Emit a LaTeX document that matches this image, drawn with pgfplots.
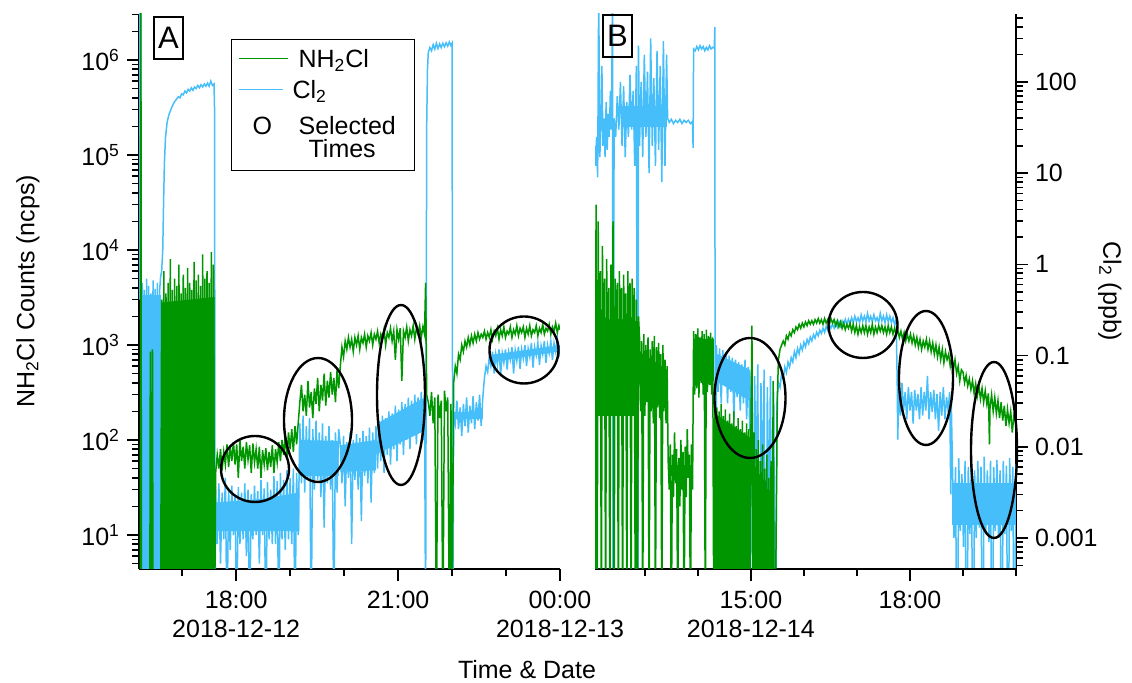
\documentclass[border=0pt]{standalone}
\usepackage{fontspec}
\setmainfont{Liberation Sans}
\usepackage{pgfplots}
\pgfplotsset{compat=1.18}
\definecolor{cgreen}{RGB}{0,150,0}
\definecolor{cblue}{RGB}{70,190,250}
\newcommand{\lfont}{\fontsize{12.5}{14.5}\selectfont}
\pgfplotsset{
  base/.style={scale only axis, width=210.5pt, height=277.5pt, anchor=south west,
    tick align=outside, major tick length=6pt, minor tick length=3.5pt,
    every tick/.style={black, line width=0.8pt},
    axis line style={-, line width=1pt, black},
    tick label style={font=\lfont},
    label style={font=\lfont},
    x tick label style={align=center, yshift=-1.5pt}},
  countticks/.style={ytick={10,100,1000,10000,100000,1000000},
    yticklabels={10\textsuperscript{1},10\textsuperscript{2},10\textsuperscript{3},10\textsuperscript{4},10\textsuperscript{5},10\textsuperscript{6}},
    minor ytick={5,6,7,8,9,20,30,40,50,60,70,80,90,200,300,400,500,600,700,800,900,2000,3000,4000,5000,6000,7000,8000,9000,2e4,3e4,4e4,5e4,6e4,7e4,8e4,9e4,2e5,3e5,4e5,5e5,6e5,7e5,8e5,9e5,2e6,3e6}},
  bband/.style={fill=cblue, draw=none, forget plot},
  gband/.style={fill=cgreen, draw=none, forget plot},
}
\begin{document}
\begin{tikzpicture}
\useasboundingbox (0,0) rectangle (566pt,341.5pt);
% ---------------- Panel A ----------------
\begin{axis}[base, at={(69.5pt,57pt)}, xmin=16.2, xmax=24, ymode=log, ymin=4.39, ymax=3.05e6,
  axis x line*=bottom, axis y line*=left, countticks,
  xtick={18,21,24}, xticklabels={{18:00\\2018-12-12},{21:00},{00:00\\2018-12-13}},
  minor xtick={17,19,20,22,23},
  ylabel={NH\textsubscript{2}Cl Counts (ncps)},
  ylabel style={at={(axis description cs:-0.264,0.5)}, anchor=center},
]
% Cl2 (blue): dense cores of the noisy bands
\addplot[bband] coordinates {(16.25,3400)(16.60,3400)(16.60,1)(16.25,1)} -- cycle;
\addplot[bband] coordinates {(17.62,22)(18.5,24)(19.17,28)(19.17,11)(17.62,11)} -- cycle;
\addplot[bband] coordinates {(19.18,100)(19.90,98)(19.90,42)(19.18,42)} -- cycle;
\addplot[bband] coordinates {(19.93,88)(20.59,100)(20.59,48)(19.93,46)} -- cycle;
\addplot[bband] coordinates {(20.62,150)(21.49,280)(21.49,125)(20.62,72)} -- cycle;
\addplot[bband] coordinates {(22.03,195)(22.57,195)(22.57,165)(22.03,165)} -- cycle;
\addplot[bband] coordinates {(22.72,790)(24,990)(24,860)(22.72,660)} -- cycle;
% Cl2 (blue)
\addplot[cblue, line width=0.75pt] coordinates {
(16.20,3000)(16.215,1e7)(16.235,1e7)(16.245,1)(16.26,4500)(16.28,1)(16.30,3800)(16.32,1)(16.34,5000)(16.36,1)(16.38,4200)(16.40,1)(16.42,3500)(16.44,1)(16.46,4800)(16.48,1)(16.50,3900)(16.52,1)(16.54,4500)(16.56,1)(16.58,3600)(16.60,5200)(16.62,6000)(16.64,1e4)(16.655,3e4)(16.67,8e4)(16.69,1.5e5)(16.72,2.2e5)(16.75,2.6e5)(16.78,2.9e5)(16.81,3.2e5)(16.84,3.5e5)(16.87,3.7e5)(16.90,3.9e5)(16.93,4.1e5)(16.96,4.0e5)(16.99,4.4e5)(17.02,4.3e5)(17.05,4.7e5)(17.08,4.5e5)(17.11,4.9e5)(17.14,4.7e5)(17.17,5.1e5)(17.20,4.8e5)(17.23,5.2e5)(17.26,5.0e5)(17.29,5.4e5)(17.32,5.1e5)(17.35,5.5e5)(17.38,5.2e5)(17.41,5.6e5)(17.44,5.3e5)(17.47,5.7e5)(17.50,5.3e5)(17.53,6.0e5)(17.56,5.4e5)(17.59,5.6e5)(17.60,3e5)(17.61,1)
(17.62,30)(17.65,8)(17.68,35)(17.71,5)(17.74,28)(17.77,9)(17.80,40)(17.83,1)(17.86,30)(17.89,7)(17.92,33)(17.95,10)(17.98,26)(18.01,1)(18.04,32)(18.07,8)(18.10,28)(18.13,9)(18.16,35)(18.19,6)(18.22,30)(18.25,1)(18.28,27)(18.31,9)(18.34,33)(18.37,10)(18.40,29)(18.43,5)(18.46,38)(18.49,10)(18.52,31)(18.55,1)(18.58,36)(18.61,9)(18.64,30)(18.67,8)(18.70,42)(18.73,8)(18.76,37)(18.79,1)(18.82,45)(18.85,9)(18.88,38)(18.91,7)(18.94,48)(18.97,9)(19.00,40)(19.03,8)(19.06,50)(19.09,1)(19.12,45)(19.15,10)
(19.18,150)(19.21,35)(19.24,180)(19.27,28)(19.30,140)(19.33,40)(19.36,170)(19.39,1)(19.42,130)(19.45,30)(19.48,160)(19.51,38)(19.54,120)(19.57,25)(19.60,150)(19.63,12)(19.66,110)(19.69,35)(19.72,140)(19.75,30)(19.78,100)(19.81,1)(19.84,120)(19.87,28)(19.90,130)
(19.93,90)(19.96,35)(19.99,110)(20.02,20)(20.05,95)(20.08,40)(20.11,120)(20.14,8)(20.17,100)(20.20,38)(20.23,115)(20.26,30)(20.29,105)(20.32,14)(20.35,125)(20.38,42)(20.41,110)(20.44,35)(20.47,135)(20.50,22)(20.53,120)(20.56,45)(20.59,140)
(20.62,50)(20.65,160)(20.68,60)(20.71,180)(20.74,45)(20.77,170)(20.80,70)(20.83,200)(20.86,55)(20.89,190)(20.92,80)(20.95,230)(20.98,60)(21.01,210)(21.04,90)(21.07,250)(21.10,70)(21.13,240)(21.16,100)(21.19,280)(21.22,80)(21.25,260)(21.28,110)(21.31,300)(21.34,90)(21.37,280)(21.40,120)(21.43,320)(21.46,100)(21.49,300)(21.51,1)
(21.53,2e5)(21.545,8e5)(21.56,1.2e6)(21.59,1.35e6)(21.62,1.25e6)(21.65,1.45e6)(21.68,1.3e6)(21.71,1.5e6)(21.74,1.32e6)(21.77,1.48e6)(21.80,1.35e6)(21.83,1.5e6)(21.86,1.38e6)(21.89,1.52e6)(21.92,1.4e6)(21.95,1.55e6)(21.98,1.42e6)(22.00,1.5e6)(22.015,1)
(22.03,200)(22.06,150)(22.09,260)(22.12,130)(22.15,220)(22.18,110)(22.21,240)(22.24,140)(22.27,280)(22.30,120)(22.33,230)(22.36,150)(22.39,290)(22.42,130)(22.45,250)(22.48,160)(22.51,300)(22.54,140)(22.57,280)(22.60,450)(22.63,600)(22.66,520)(22.69,750)
(22.72,600)(22.75,850)(22.78,500)(22.81,800)(22.84,620)(22.87,900)(22.90,480)(22.93,820)(22.96,650)(22.99,900)(23.02,550)(23.05,850)(23.08,700)(23.11,950)(23.14,500)(23.17,880)(23.20,680)(23.23,960)(23.26,560)(23.29,900)(23.32,720)(23.35,1000)(23.38,600)(23.41,920)(23.44,750)(23.47,1050)(23.50,580)(23.53,950)(23.56,780)(23.59,1050)(23.62,620)(23.65,980)(23.68,800)(23.71,1100)(23.74,650)(23.77,1000)(23.80,820)(23.83,1100)(23.86,700)(23.89,1050)(23.92,850)(23.95,1150)(23.98,750)(24.00,1000)
};
% NH2Cl (green)
\addplot[gband] coordinates {(16.62,2800)(17.60,3200)(17.60,1)(16.62,1)} -- cycle;
\addplot[cgreen, line width=0.75pt] coordinates {
(16.20,1)(16.225,1)(16.235,1e7)(16.245,1)(16.40,1)(16.41,850)(16.42,1)(16.45,900)(16.46,1)(16.60,1)
(16.62,3000)(16.64,1)(16.66,6000)(16.68,1)(16.70,3500)(16.72,1)(16.74,4500)(16.76,1)(16.78,8000)(16.80,1)(16.82,3800)(16.84,1)(16.86,5000)(16.88,1)(16.90,4200)(16.92,1)(16.94,7000)(16.96,1)(16.98,3500)(17.00,1)(17.02,5500)(17.04,1)(17.06,4000)(17.08,1)(17.10,6500)(17.12,1)(17.14,4500)(17.16,1)(17.18,3800)(17.20,1)(17.22,7500)(17.24,1)(17.26,4800)(17.28,1)(17.30,5500)(17.32,1)(17.34,4200)(17.36,1)(17.38,9000)(17.40,1)(17.42,5000)(17.44,1)(17.46,6000)(17.48,1)(17.50,4500)(17.52,1)(17.54,9500)(17.56,1)(17.58,7000)(17.60,1)
(17.62,45)(17.65,70)(17.68,50)(17.71,80)(17.74,48)(17.77,75)(17.80,55)(17.83,90)(17.86,52)(17.89,85)(17.92,60)(17.95,95)(17.98,55)(18.01,90)(18.04,40)(18.07,100)(18.10,60)(18.13,85)(18.16,50)(18.19,95)(18.22,62)(18.25,88)(18.28,45)(18.31,92)(18.34,58)(18.37,80)(18.40,50)(18.43,85)(18.46,40)(18.49,78)(18.52,55)(18.55,82)(18.58,48)(18.61,75)(18.64,52)(18.67,88)(18.70,45)(18.73,80)(18.76,58)(18.79,95)(18.82,60)(18.85,100)(18.88,70)(18.91,110)(18.94,65)(18.97,120)(19.00,80)(19.03,130)(19.06,75)(19.09,140)(19.12,90)(19.15,150)
(19.18,250)(19.21,380)(19.24,200)(19.27,300)(19.30,180)(19.33,420)(19.36,220)(19.39,320)(19.42,170)(19.45,350)(19.48,240)(19.51,450)(19.54,200)(19.57,380)(19.60,260)(19.63,500)(19.66,230)(19.69,420)(19.72,280)(19.75,520)(19.78,300)(19.81,450)(19.84,250)(19.87,550)(19.90,350)
(19.93,600)(19.96,950)(19.99,750)(20.02,1100)(20.05,900)(20.08,1200)(20.11,950)(20.14,1150)(20.17,850)(20.20,1200)(20.23,1000)(20.26,1250)(20.29,900)(20.32,1200)(20.35,1050)(20.38,1300)(20.41,950)(20.44,1250)(20.47,1100)(20.50,1350)(20.53,1000)(20.56,1300)(20.59,1150)(20.62,1400)(20.65,1050)(20.68,1300)(20.71,1150)(20.74,1450)(20.77,1000)(20.80,1350)(20.83,1200)(20.86,1500)(20.89,1100)(20.92,1400)(20.95,700)(20.98,1450)(21.01,1150)(21.04,1500)(21.07,420)(21.10,1400)(21.13,1200)(21.16,1550)(21.19,1100)(21.22,1450)(21.25,1250)(21.28,1600)(21.31,1150)(21.34,1500)(21.37,1300)(21.40,1600)(21.43,1200)(21.46,1550)(21.49,1300)(21.51,4500)(21.52,1400)(21.53,300)
(21.56,250)(21.59,180)(21.62,320)(21.65,150)(21.68,280)(21.71,1)(21.74,300)(21.77,170)(21.80,260)(21.83,1)(21.86,330)(21.89,200)(21.92,280)(21.95,1)(21.98,240)(22.00,1)
(22.03,400)(22.06,600)(22.09,500)(22.12,800)(22.15,700)(22.18,1000)(22.21,850)(22.24,1100)(22.27,950)(22.30,1200)(22.33,1000)(22.36,1250)(22.39,1050)(22.42,1300)(22.45,1100)(22.48,1350)(22.51,1150)(22.54,1300)(22.57,1200)(22.60,1400)(22.63,1150)(22.66,1350)
(22.69,1200)(22.72,1450)(22.75,1150)(22.78,1400)(22.81,1250)(22.84,1500)(22.87,1150)(22.90,1450)(22.93,1250)(22.96,1550)(22.99,1200)(23.02,1400)(23.05,1300)(23.08,1550)(23.11,1200)(23.14,1450)(23.17,1300)(23.20,1600)(23.23,1250)(23.26,1500)(23.29,1350)(23.32,1550)(23.35,1200)(23.38,1500)(23.41,1300)(23.44,1600)(23.47,1250)(23.50,1450)(23.53,1350)(23.56,1600)(23.59,1250)(23.62,1500)(23.65,1350)(23.68,1650)(23.71,1300)(23.74,1500)(23.77,1400)(23.80,1650)(23.83,1300)(23.86,1550)(23.89,1400)(23.92,1700)(23.95,1350)(23.98,1600)(24.00,1450)
};
\end{axis}
% ---------------- Panel B : Cl2 on ppb axis ----------------
\begin{axis}[base, at={(297.5pt,57pt)}, xmin=12.06, xmax=20, ymode=log, ymin=4.57e-4, ymax=557,
  axis y line*=right, hide x axis,
  ytick={0.001,0.01,0.1,1,10,100}, yticklabels={0.001,0.01,0.1,1,10,100},
  minor ytick={5e-4,6e-4,7e-4,8e-4,9e-4,0.002,0.003,0.004,0.005,0.006,0.007,0.008,0.009,0.02,0.03,0.04,0.05,0.06,0.07,0.08,0.09,0.2,0.3,0.4,0.5,0.6,0.7,0.8,0.9,2,3,4,5,6,7,8,9,20,30,40,50,60,70,80,90,200,300,400,500},
  ylabel={Cl\textsubscript{2} (ppb)},
  ylabel style={at={(axis description cs:1.223,0.5)}, anchor=center, rotate=180},
]
\addplot[bband] coordinates {(12.55,55)(13.42,55)(13.42,32)(12.55,32)} -- cycle;
\addplot[bband] coordinates {(14.35,0.105)(14.98,0.07)(14.98,0.032)(14.35,0.052)} -- cycle;
\addplot[bband] coordinates {(18.80,0.004)(20.0,0.004)(20.0,0.0014)(18.80,0.0014)} -- cycle;
\addplot[cblue, line width=0.75pt] coordinates {
(12.06,20)(12.07,12)(12.09,25)(12.11,9)(12.13,1000)(12.15,15)(12.17,30)(12.19,150)(12.21,20)(12.23,40)(12.25,15)(12.27,60)(12.29,18)(12.31,45)(12.33,25)(12.35,80)(12.37,30)(12.39,1000)(12.40,1e-5)(12.42,40)(12.45,25)(12.48,70)(12.51,30)(12.54,100)
(12.57,20)(12.60,90)(12.63,15)(12.66,60)(12.69,25)(12.72,120)(12.75,30)(12.78,80)(12.81,12)(12.84,150)(12.87,1e-5)(12.88,250)(12.90,20)(12.93,100)(12.96,15)(12.99,200)(13.02,25)(13.05,130)(13.08,10)(13.11,300)(13.14,20)(13.17,110)(13.20,12)(13.23,220)(13.26,18)(13.29,150)(13.32,8)(13.35,280)(13.38,12)(13.41,200)
(13.43,40)(13.46,36)(13.50,39)(13.54,35)(13.58,38)(13.62,36)(13.66,39)(13.70,35)(13.74,38)(13.78,36)(13.82,38)(13.86,35)(13.90,37)(13.91,19)(13.92,230)
(13.95,220)(13.98,245)(14.01,225)(14.04,250)(14.07,230)(14.10,245)(14.13,220)(14.16,240)(14.19,225)(14.22,250)(14.25,230)(14.28,240)(14.31,235)(14.32,400)(14.33,1e-5)
(14.35,0.13)(14.38,0.04)(14.41,0.12)(14.44,0.03)(14.47,0.115)(14.50,0.05)(14.53,0.11)(14.56,0.03)(14.59,0.10)(14.62,0.04)(14.65,0.095)(14.68,0.02)(14.71,0.09)(14.74,0.035)(14.77,0.085)(14.80,0.025)(14.83,0.08)(14.86,0.03)(14.89,0.09)(14.92,0.02)(14.95,0.075)(14.98,0.015)
(15.01,0.07)(15.04,1e-5)(15.07,0.06)(15.10,0.005)(15.13,0.08)(15.16,1e-5)(15.19,0.05)(15.22,0.003)(15.25,0.07)(15.28,1e-5)(15.31,0.045)(15.34,0.002)(15.37,0.06)(15.40,1e-5)(15.43,0.04)(15.46,1e-5)
(15.49,0.03)(15.52,0.05)(15.55,0.045)(15.58,0.065)(15.61,0.055)(15.64,0.075)(15.67,0.065)(15.70,0.085)(15.73,0.075)(15.76,0.095)(15.79,0.085)(15.82,0.11)(15.85,0.095)(15.88,0.12)(15.91,0.105)(15.94,0.13)(15.97,0.115)(16.00,0.14)(16.03,0.125)(16.06,0.15)(16.09,0.135)(16.12,0.16)(16.15,0.145)(16.18,0.17)(16.21,0.155)(16.24,0.18)(16.27,0.165)(16.30,0.19)(16.33,0.175)(16.36,0.20)(16.39,0.18)(16.42,0.21)(16.45,0.19)(16.48,0.22)(16.51,0.20)(16.54,0.22)(16.57,0.20)(16.60,0.23)(16.63,0.205)(16.66,0.235)(16.69,0.21)(16.72,0.24)(16.75,0.215)(16.78,0.25)(16.81,0.22)(16.84,0.25)(16.87,0.225)(16.90,0.26)(16.93,0.23)(16.96,0.27)(16.99,0.235)(17.02,0.26)(17.05,0.23)(17.08,0.28)(17.11,0.24)(17.14,0.27)(17.17,0.235)(17.20,0.29)(17.23,0.24)(17.26,0.27)(17.29,0.235)(17.32,0.28)(17.35,0.24)(17.38,0.26)(17.41,0.23)(17.44,0.29)(17.47,0.24)(17.50,0.27)(17.53,0.23)(17.56,0.28)(17.59,0.235)(17.62,0.27)(17.65,0.23)(17.68,0.26)(17.71,0.22)(17.74,0.25)
(17.76,0.05)(17.77,0.012)(17.79,0.045)(17.82,0.022)(17.85,0.05)(17.88,0.025)(17.91,0.04)(17.94,0.02)(17.97,0.045)(18.00,0.025)(18.03,0.04)(18.06,0.018)(18.09,0.042)(18.12,0.025)(18.15,0.038)(18.18,0.02)(18.21,0.045)(18.24,0.022)(18.27,0.04)(18.30,0.025)(18.33,0.06)(18.36,0.02)(18.39,0.04)(18.42,0.024)(18.45,0.042)(18.48,0.02)(18.51,0.038)(18.54,0.015)(18.57,0.04)(18.60,0.022)(18.63,0.045)(18.66,0.02)(18.69,0.035)(18.72,0.025)(18.75,0.04)(18.77,0.003)(18.78,0.03)
(18.80,0.007)(18.83,0.001)(18.86,0.006)(18.89,1e-5)(18.92,0.0075)(18.95,0.0012)(18.98,0.005)(19.01,0.0008)(19.04,0.007)(19.07,1e-5)(19.10,0.006)(19.13,0.0011)(19.16,0.0075)(19.19,1e-5)(19.22,0.0055)(19.25,0.001)(19.28,0.007)(19.31,0.0013)(19.34,0.006)(19.37,1e-5)(19.40,0.0078)(19.43,0.0011)(19.46,0.0055)(19.49,0.0009)(19.52,0.007)(19.55,1e-5)(19.58,0.006)(19.61,0.0012)(19.64,0.0072)(19.67,0.001)(19.70,0.0055)(19.73,1e-5)(19.76,0.007)(19.79,0.0011)(19.82,0.0062)(19.85,1e-5)(19.88,0.0075)(19.91,0.0012)(19.94,0.006)(19.97,1e-5)(20.00,0.0065)
};
\end{axis}
% ---------------- Panel B : NH2Cl on counts axis ----------------
\begin{axis}[base, at={(297.5pt,57pt)}, xmin=12.06, xmax=20, ymode=log, ymin=4.39, ymax=3.05e6,
  axis x line*=bottom, hide y axis,
  xtick={15,18}, xticklabels={{15:00\\2018-12-14},{18:00}},
  minor xtick={13,14,16,17,19,20},
]
\addplot[gband] coordinates {(12.07,1800)(12.88,1800)(12.88,180)(12.07,180)} -- cycle;
\addplot[gband] coordinates {(12.90,850)(13.42,550)(13.42,260)(12.90,260)} -- cycle;
\addplot[gband] coordinates {(13.44,55)(13.90,55)(13.90,42)(13.44,42)} -- cycle;
\addplot[gband] coordinates {(13.92,1150)(14.30,1150)(14.30,420)(13.92,420)} -- cycle;
\addplot[gband] coordinates {(14.32,190)(15.00,105)(15.00,1)(14.32,1)} -- cycle;
\addplot[cgreen, line width=0.75pt] coordinates {
(12.06,1)(12.08,3e4)(12.10,1)(12.12,2e4)(12.14,300)(12.16,6000)(12.18,1)(12.20,1.1e4)(12.22,500)(12.24,5000)(12.26,1)(12.28,8000)(12.30,200)(12.32,4000)(12.34,1)(12.36,7000)(12.38,400)(12.40,2e4)(12.42,1)(12.44,5000)(12.46,300)(12.48,4500)(12.50,1)(12.52,6000)(12.54,250)(12.56,4000)(12.58,1)(12.60,5500)(12.62,400)(12.64,3500)(12.66,1)(12.68,6000)(12.70,300)(12.72,4500)(12.74,1)(12.76,5000)(12.78,200)(12.80,4000)(12.82,1)(12.84,3000)(12.86,1)(12.88,2000)
(12.90,1200)(12.92,200)(12.94,1100)(12.96,1)(12.98,1300)(13.00,180)(13.02,1000)(13.04,250)(13.06,1200)(13.08,1)(13.10,900)(13.12,200)(13.14,1100)(13.16,150)(13.18,1250)(13.20,1)(13.22,950)(13.24,220)(13.26,1050)(13.28,170)(13.30,800)(13.32,1)(13.34,1000)(13.36,200)(13.38,700)(13.40,150)(13.42,600)
(13.44,60)(13.46,30)(13.48,90)(13.50,1)(13.52,70)(13.54,25)(13.56,120)(13.58,35)(13.60,80)(13.62,1)(13.64,65)(13.66,20)(13.68,100)(13.70,30)(13.72,75)(13.74,1)(13.76,85)(13.78,25)(13.80,130)(13.82,40)(13.84,70)(13.86,1)(13.88,90)(13.90,30)
(13.92,1400)(13.94,300)(13.96,1300)(13.98,350)(14.00,1500)(14.02,280)(14.04,1200)(14.06,400)(14.08,1400)(14.10,300)(14.12,1300)(14.14,1)(14.16,1450)(14.18,320)(14.20,1250)(14.22,380)(14.24,1350)(14.26,300)(14.28,1200)(14.30,1)
(14.32,250)(14.34,1)(14.36,220)(14.38,1)(14.40,200)(14.42,1)(14.44,240)(14.46,1)(14.48,180)(14.50,1)(14.52,210)(14.54,1)(14.56,160)(14.58,1)(14.60,190)(14.62,1)(14.64,150)(14.66,1)(14.68,200)(14.70,1)(14.72,140)(14.74,1)(14.76,170)(14.78,1)(14.80,130)(14.82,1)(14.84,160)(14.86,1)(14.88,120)(14.90,1)(14.92,150)(14.94,1)(14.96,130)(14.98,1)(15.00,110)(15.02,1600)(15.04,1)
(15.06,120)(15.08,1)(15.10,80)(15.12,1)(15.14,100)(15.16,1)(15.18,60)(15.20,1)(15.22,90)(15.24,1)(15.26,50)(15.28,1)(15.30,70)(15.32,1)(15.34,40)(15.36,1)(15.38,60)(15.40,1)(15.42,420)(15.44,1)(15.46,1)
(15.50,300)(15.52,700)(15.55,900)(15.58,1000)(15.61,1100)(15.64,1000)(15.67,1250)(15.70,1150)(15.73,1350)(15.76,1250)(15.79,1450)(15.82,1350)(15.85,1550)(15.88,1450)(15.91,1650)(15.94,1500)(15.97,1700)(16.00,1550)(16.03,1750)(16.06,1600)(16.09,1800)(16.12,1650)(16.15,1800)(16.18,1650)(16.21,1850)(16.24,1700)(16.27,1900)(16.30,1700)(16.33,1850)(16.36,1650)(16.39,1900)(16.42,1700)(16.45,1850)(16.48,1650)(16.51,1900)(16.54,1700)(16.57,1850)(16.60,1600)(16.63,1800)(16.66,1550)(16.69,1750)(16.72,1500)(16.75,1700)(16.78,1450)(16.81,1650)(16.84,1500)(16.87,1700)(16.90,1400)(16.93,1650)(16.96,1350)(16.99,1600)(17.02,1300)(17.05,1550)(17.08,1350)(17.11,1600)(17.14,1350)(17.17,1600)(17.20,1300)(17.23,1550)(17.26,1350)(17.29,1650)(17.32,1300)(17.35,1550)(17.38,1350)(17.41,1600)(17.44,1400)(17.47,1600)(17.50,1350)(17.53,1550)(17.56,1300)(17.59,1600)(17.62,1350)(17.65,1550)(17.68,1300)(17.71,1500)(17.74,1300)(17.77,1450)(17.80,1200)(17.83,1400)(17.86,1150)(17.89,1350)(17.92,1100)(17.95,1300)(17.98,1100)(18.01,1300)(18.04,1050)(18.07,1250)(18.10,1000)(18.13,1200)(18.16,950)(18.19,1150)(18.22,900)(18.25,1100)(18.28,950)(18.31,1150)(18.34,900)(18.37,1100)(18.40,850)(18.43,1050)(18.46,800)(18.49,1000)(18.52,750)(18.55,950)(18.58,700)(18.61,900)(18.64,650)(18.67,850)(18.70,700)(18.73,800)(18.76,600)(18.79,750)(18.82,550)(18.85,700)(18.88,500)(18.91,600)(18.94,420)(18.97,550)
(19.00,520)(19.03,400)(19.06,480)(19.09,370)(19.12,440)(19.15,340)(19.18,420)(19.21,310)(19.24,390)(19.27,290)(19.30,370)(19.33,270)(19.36,350)(19.39,250)(19.42,330)(19.45,240)(19.48,310)(19.50,90)(19.51,220)(19.54,300)(19.57,200)(19.60,280)(19.63,190)(19.66,260)(19.69,170)(19.72,250)(19.75,160)(19.78,230)(19.81,140)(19.84,210)(19.87,150)(19.90,200)(19.93,120)(19.96,180)(20.00,150)
};
\end{axis}
% legend
\node[draw, line width=0.6pt, anchor=north west, inner xsep=3.5pt, inner ysep=2pt, font=\lfont] at (115.5pt,322pt) {%
\begin{tabular}{@{}l@{\hspace{5.5pt}}l@{\hspace{6pt}}}
\rule{0pt}{12pt}\textcolor{cgreen}{\rule[4.25pt]{24.5pt}{0.6pt}} & NH\textsubscript{2}Cl\\[1pt]
\textcolor{cblue}{\rule[4.25pt]{22pt}{0.6pt}} & \hspace{-3pt}Cl\textsubscript{2}\\[3.5pt]
\hspace{7pt}O & Selected\\[-3pt]
 & \hspace{5pt}Times
\end{tabular}};
% panel letters
\node[draw, line width=0.6pt, minimum width=14.5pt, minimum height=21pt, inner sep=0pt, font=\fontsize{15.5}{18}\selectfont] at (84.25pt,322.5pt) {A};
\node[draw, line width=0.6pt, minimum width=14.5pt, minimum height=21pt, inner sep=0pt, font=\fontsize{15.5}{18}\selectfont] at (308.75pt,323.5pt) {B};
% selected-time ellipses
\begin{scope}[line width=1.2pt]
\draw (127.5pt,107pt) ellipse (17pt and 16.5pt);
\draw (159pt,131.5pt) ellipse (17pt and 31pt);
\draw (200.5pt,144pt) ellipse (12pt and 45pt);
\draw (262pt,166.5pt) ellipse (17.25pt and 16.75pt);
\draw (375pt,142.5pt) ellipse (17.75pt and 30pt);
\draw (431.5pt,179pt) ellipse (17.25pt and 16.5pt);
\draw (463pt,152.5pt) ellipse (13.5pt and 33.5pt);
\draw (497pt,116.5pt) ellipse (11.5pt and 44pt);
\end{scope}
\node[anchor=base, font=\lfont] at (263.5pt,2pt) {Time \& Date};
\end{tikzpicture}
\end{document}
